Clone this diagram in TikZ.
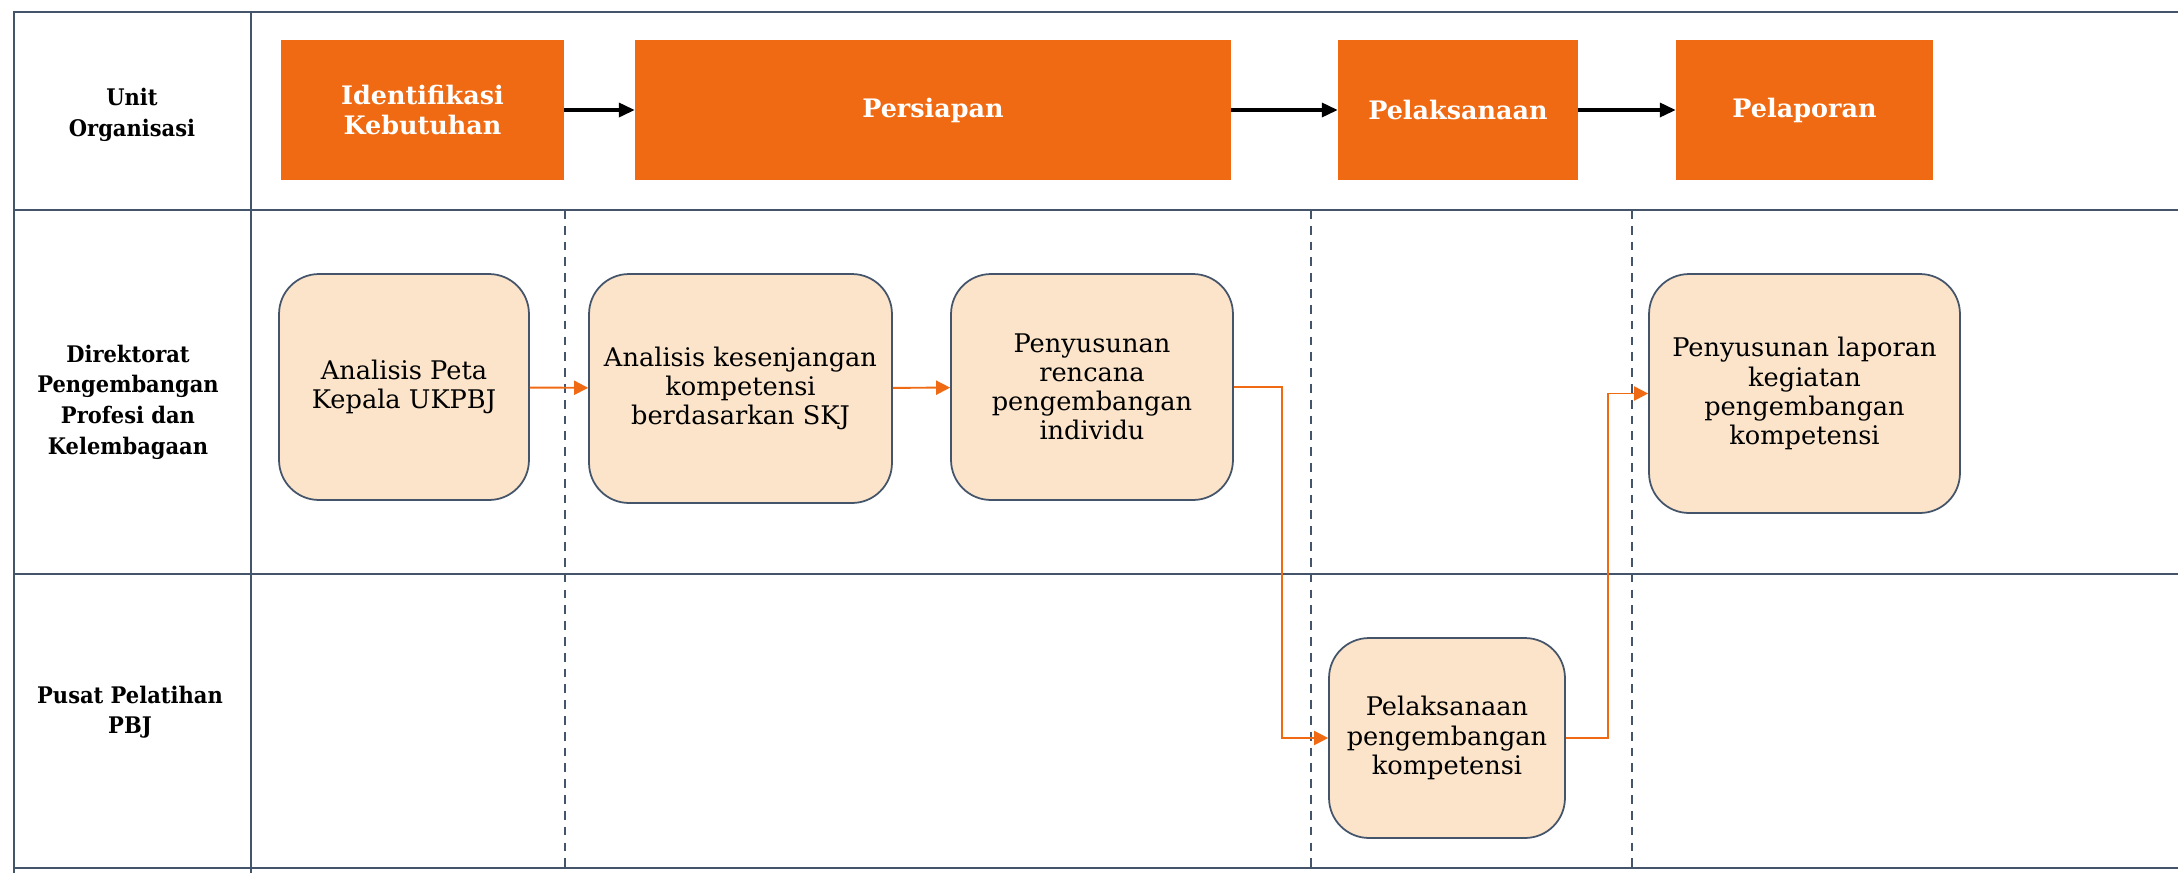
\documentclass[tikz,border=0pt]{standalone}
\usepackage{fontspec}
\setmainfont{DejaVu Serif}
\newfontfamily\lajurfont[FakeStretch=0.92]{DejaVu Serif}
\usetikzlibrary{arrows.meta}
\definecolor{oranye}{HTML}{EF6A12}
\definecolor{krem}{HTML}{FBE4CA}
\definecolor{garis}{HTML}{44546A}

\begin{document}
\begin{tikzpicture}[x=0.02cm,y=-0.02cm,
   tahap/.style={fill=oranye,text=white,align=center,inner sep=0pt,
      font=\fontsize{14.5}{17.4}\selectfont\bfseries},
   kegiatan/.style={draw=garis,line width=1pt,fill=krem,rounded corners=0.8cm,
      align=center,inner sep=0pt,font=\fontsize{14.6}{16.6}\selectfont},
   lajur/.style={align=center,font=\lajurfont\fontsize{13}{17.4}\selectfont\bfseries},
   batas/.style={draw=garis,line width=1.6pt},
   pemisah/.style={draw=garis,line width=0.8pt,dash pattern=on 5pt off 4pt},
   urutan/.style={draw=black,line width=1.8pt,-{Triangle[length=9pt,width=8pt]}},
   alur/.style={draw=oranye,line width=1.1pt,-{Triangle[length=8pt,width=8pt]}}]
   \useasboundingbox (0,0) rectangle (2178,873);
   \draw[batas] (2178,12) -- (14,12) -- (14,873);
   \draw[batas] (251,12) -- (251,873);
   \draw[batas] (14,210) -- (2178,210);
   \draw[batas] (14,574) -- (2178,574);
   \draw[batas] (14,868) -- (2178,868);
   \draw[pemisah] (565,210) -- (565,873);
   \draw[pemisah] (1311,210) -- (1311,873);
   \draw[pemisah] (1632,210) -- (1632,873);
   \node[lajur] (lj1) at (132,115) {Unit\\Organisasi};
   \node[lajur] (lj2) at (128,402) {Direktorat\\Pengembangan\\Profesi dan\\Kelembagaan};
   \node[lajur] (lj3) at (130,712) {Pusat Pelatihan\\PBJ};
   \node[tahap,minimum width=5.66cm,minimum height=2.8cm] (idf) at (422.5,110) {Identifikasi\\Kebutuhan};
   \node[tahap,minimum width=11.92cm,minimum height=2.8cm] (prs) at (933,110) {Persiapan};
   \node[tahap,minimum width=4.8cm,minimum height=2.8cm] (pls) at (1458,110) {Pelaksanaan};
   \node[tahap,minimum width=5.14cm,minimum height=2.8cm] (plp) at (1804.5,110) {Pelaporan};
   \draw[urutan] (idf) -- (prs);
   \draw[urutan] (prs) -- (pls);
   \draw[urutan] (pls) -- (plp);
   \node[kegiatan,minimum width=5cm,minimum height=4.52cm] (apk) at (404,387) {Analisis Peta\\Kepala UKPBJ};
   \node[kegiatan,minimum width=6.06cm,minimum height=4.58cm] (akk) at (740.5,388.5) {Analisis kesenjangan\\kompetensi\\berdasarkan SKJ};
   \node[kegiatan,minimum width=5.64cm,minimum height=4.52cm] (prp) at (1092,387) {Penyusunan\\rencana\\pengembangan\\individu};
   \node[kegiatan,minimum width=6.22cm,minimum height=4.78cm] (plk) at (1804.5,393.5) {Penyusunan laporan\\kegiatan\\pengembangan\\kompetensi};
   \node[kegiatan,minimum width=4.72cm,minimum height=4cm] (ppk) at (1447,738) {Pelaksanaan\\pengembangan\\kompetensi};
   \draw[alur] (apk) -- (akk);
   \draw[alur] (akk) -- (prp);
   \draw[alur] (prp.east) -- ++(48,0) |- (ppk.west);
   \draw[alur] (ppk.east) -- ++(42,0) |- (plk.west);
\end{tikzpicture}
\end{document}
